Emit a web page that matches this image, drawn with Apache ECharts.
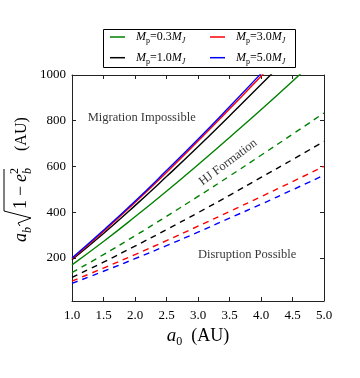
<!DOCTYPE html>
<html><head><meta charset="utf-8">
<script src="https://cdn.jsdelivr.net/npm/echarts@6/dist/echarts.min.js"></script>
<style>html,body{margin:0;padding:0;background:#fff}#c{width:360px;height:378px}</style>
</head><body><div id="c"></div>
<script>
// a0 (AU)
const xs = [1.0, 1.5, 2.0, 2.5, 3.0, 3.5, 4.0, 4.5, 5.0];
// solid curves (upper boundary, migration impossible)
const solid03 = [170, 272, 380, 492, 608, 727, 848, 973, 1099];
const solid10 = [192, 307, 429, 556, 686, 821, 958, 1098];
const solid30 = [197, 316, 443, 574, 711, 851, 995, 1141];
const solid50 = [200, 321, 448, 582, 719, 861, 1006];
// dashed curves (lower boundary, disruption possible)
const dash03 = [136, 215, 297, 382, 469, 558, 649, 741, 834];
const dash10 = [115, 182, 252, 324, 398, 474, 552, 630, 710];
const dash30 = [99, 156, 215, 276, 339, 403, 468, 534, 601];
const dash50 = [89, 142, 197, 254, 313, 374, 435, 498, 562];
const massLabels = ['0.3', '1.0', '3.0', '5.0'];
const colors = ['#008000', '#000000', '#ff0000', '#0000ff'];
const yTicks = [200, 400, 600, 800, 1000];
const annotTexts = ['Migration Impossible', 'HJ Formation', 'Disruption Possible'];
const annotX = [1.25, 3.48, 3.78];
const annotY = [814, 618, 215];

const SERIF = 'Liberation Serif';
const pair = (ys) => ys.map((y, i) => [xs[i], y]);
const solids = [solid03, solid10, solid30, solid50];
const dashes = [dash03, dash10, dash30, dash50];
const names = massLabels.map(m => 'Mp=' + m + 'MJ');

const series = [];
for (let k = 0; k < 4; k++) {
  series.push({
    name: names[k], type: 'line', data: pair(solids[k]), symbol: 'none', smooth: true,
    lineStyle: { color: colors[k], width: 1.4 }, itemStyle: { color: colors[k] },
    z: 3 + k, clip: true, xAxisIndex: 0, yAxisIndex: 0
  });
}
for (let k = 0; k < 4; k++) {
  series.push({
    name: 'dash' + k, type: 'line', data: pair(dashes[k]), symbol: 'none', smooth: true,
    lineStyle: { color: colors[k], width: 1.4, type: [6, 5] }, itemStyle: { color: colors[k] },
    z: 3 + k, clip: true, xAxisIndex: 0, yAxisIndex: 0
  });
}
const annotRot = [0, 37, 0];
const annotPos = ['right', 'inside', 'inside'];
series.push({
  type: 'scatter', symbolSize: 0, silent: true, z: 10,
  data: annotTexts.map((t, i) => ({
    value: [annotX[i], annotY[i]],
    label: { show: true, formatter: t, position: annotPos[i], distance: 0, rotate: annotRot[i],
      color: '#000', fontFamily: SERIF, fontSize: 12.5 }
  }))
});

const legendRich = {
  sp: { width: 6 },
  i: { fontFamily: SERIF, fontStyle: 'italic', fontSize: 12, lineHeight: 16, color: '#000' },
  n: { fontFamily: SERIF, fontSize: 12, lineHeight: 16, color: '#000' },
  s: { fontFamily: SERIF, fontSize: 8, lineHeight: 8, verticalAlign: 'bottom', color: '#000' },
  si: { fontFamily: SERIF, fontStyle: 'italic', fontSize: 8, lineHeight: 8, verticalAlign: 'bottom', color: '#000' }
};
const legendFmt = (name) => {
  const m = name.slice(3, 6);
  return '{sp|}{i|M}{s|p}{n|=' + m + '}{i|M}{si|J}';
};
const mkLegend = (left, data) => ({
  orient: 'vertical', left: left, top: 31, icon: 'rect', itemWidth: 15, itemHeight: 1.5, itemGap: 6.7,
  padding: 0, data: data, formatter: legendFmt, selectedMode: false,
  textStyle: { rich: legendRich }, z: 20
});

const axisLineStyle = { show: true, lineStyle: { color: '#222', width: 1 } };
const tickStyle = { show: true, inside: true, length: 4, lineStyle: { color: '#222', width: 1 } };

const T = (text, x, y, size, italic) => ({ type: 'text', x: x, y: y,
  style: { text: text, fontFamily: SERIF, fontStyle: italic ? 'italic' : 'normal', fontSize: size, fill: '#000' } });

const option = {
  animation: false,
  backgroundColor: '#fff',
  grid: { left: 72, right: 36, top: 75, bottom: 77, containLabel: false },
  legend: [mkLegend(110, [names[0], names[1]]), mkLegend(210, [names[2], names[3]])],
  xAxis: [
    { type: 'value', min: 1, max: 5, interval: 0.5, position: 'bottom',
      axisLine: axisLineStyle, axisTick: tickStyle, splitLine: { show: false },
      axisLabel: { formatter: v => v.toFixed(1), fontFamily: SERIF, fontSize: 13, color: '#000', margin: 8 },
      name: '{i|a}{s|0}{n|  (AU)}', nameLocation: 'middle', nameGap: 21,
      nameTextStyle: { rich: {
        i: { fontFamily: SERIF, fontStyle: 'italic', fontSize: 19, lineHeight: 22, color: '#000' },
        s: { fontFamily: SERIF, fontSize: 12, lineHeight: 12, verticalAlign: 'bottom', color: '#000' },
        n: { fontFamily: SERIF, fontSize: 18, lineHeight: 22, color: '#000' } } } },
    { type: 'value', min: 1, max: 5, interval: 0.5, position: 'top',
      axisLine: axisLineStyle, axisTick: tickStyle, splitLine: { show: false }, axisLabel: { show: false } }
  ],
  yAxis: [
    { type: 'value', min: 12, max: 1000, position: 'left',
      axisLine: axisLineStyle, splitLine: { show: false },
      axisTick: Object.assign({}, tickStyle, { customValues: yTicks }),
      axisLabel: { customValues: yTicks, formatter: v => String(v), fontFamily: SERIF, fontSize: 13, color: '#000', margin: 6 } },
    { type: 'value', min: 12, max: 1000, position: 'right',
      axisLine: axisLineStyle, splitLine: { show: false },
      axisTick: Object.assign({}, tickStyle, { customValues: yTicks }),
      axisLabel: { show: false } }
  ],
  graphic: [
    { type: 'rect', left: 103, top: 29, shape: { width: 192, height: 38 }, z: 15,
      style: { fill: '#fff', stroke: '#000', lineWidth: 1 } },
    { type: 'group', position: [28, 182], rotation: Math.PI / 2, z: 15, children: [
      T('a', -60, -15.5, 18, true),
      T('b', -51, -6, 12, true),
      { type: 'polyline', shape: { points: [[-44, -8], [-41, -10], [-36, 3], [-29, -24], [13, -24]] }, style: { stroke: '#000', lineWidth: 1, fill: null } },
      T('1', -27, -15.5, 18, false),
      T('\u2212', -14, -15.5, 18, false),
      T('e', 0, -15.5, 18, true),
      T('b', 8, -6, 12, true),
      T('2', 8, -19, 12, false),
      T('(AU)', 31, -14, 16, false)
    ] }
  ],
  series: series
};
const chart = echarts.init(document.getElementById('c'), null, { renderer: 'canvas' });
chart.setOption(option);
</script></body></html>
